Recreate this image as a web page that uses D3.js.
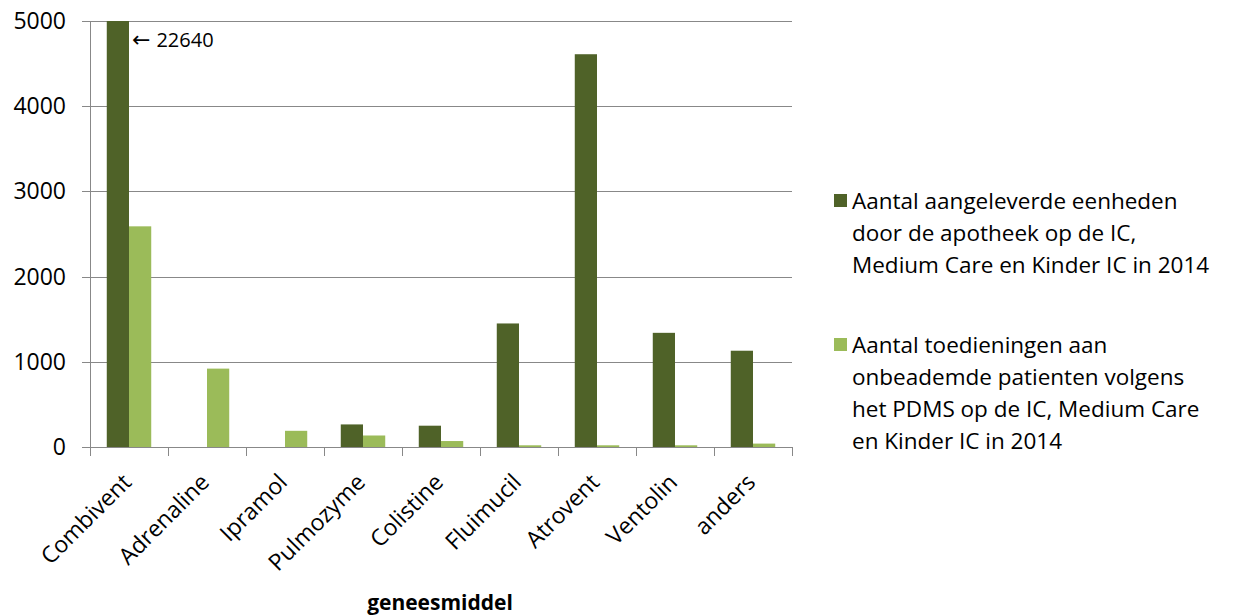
<!DOCTYPE html>
<html>
<head>
<meta charset="utf-8">
<script src="https://cdn.jsdelivr.net/npm/d3@7"></script>
<style>
  body { margin: 0; background: #fff; }
  svg text { font-family: "Open Sans", sans-serif; fill: #000; }
</style>
</head>
<body>
<svg id="chart" width="1238" height="615"></svg>
<script>
// data
const categories = ["Combivent", "Adrenaline", "Ipramol", "Pulmozyme", "Colistine", "Fluimucil", "Atrovent", "Ventolin", "anders"];
const delivered = [22640, 0, 0, 265, 250, 1450, 4610, 1340, 1130];
const administered = [2590, 920, 190, 135, 70, 20, 20, 20, 40];
const yTicks = [0, 1000, 2000, 3000, 4000, 5000];
const seriesNames = [
    ["Aantal aangeleverde eenheden", "door de apotheek op de IC,", "Medium Care en Kinder IC in 2014"],
    ["Aantal toedieningen aan", "onbeademde patienten volgens", "het PDMS op de IC, Medium Care", "en Kinder IC in 2014"]
];
const colors = ["#4F6228", "#9BBB59"];

const svg = d3.select("#chart");
const margin = {top: 21, left: 90, right: 792, bottom: 447};

const x = d3.scaleBand()
    .domain(categories)
    .range([margin.left, margin.right])
    .paddingInner(0.43)
    .paddingOuter(0.215);
// outer tick positions are the category boundaries
const step = (margin.right - margin.left) / categories.length;

const y = d3.scaleLinear()
    .domain([0, 5000])
    .range([margin.bottom, margin.top])
    .clamp(true);

// gridlines
svg.append("g")
    .selectAll("line")
    .data(yTicks)
    .enter().append("line")
    .attr("x1", margin.left - 8)
    .attr("x2", margin.right)
    .attr("y1", d => Math.round(y(d)) + 0.5)
    .attr("y2", d => Math.round(y(d)) + 0.5)
    .attr("stroke", "#888")
    .attr("stroke-width", 1);

// y labels
svg.append("g")
    .selectAll("text")
    .data(yTicks)
    .enter().append("text")
    .attr("x", 66)
    .attr("y", d => y(d))
    .attr("dy", "0.35em")
    .attr("text-anchor", "end")
    .style("font-size", "23px")
    .text(d => d);

// y axis line
svg.append("line")
    .attr("x1", margin.left + 0.5).attr("x2", margin.left + 0.5)
    .attr("y1", margin.top).attr("y2", margin.bottom)
    .attr("stroke", "#888");

// bars
const bw = x.bandwidth() / 2;
const series = [delivered, administered];
series.forEach((vals, si) => {
    svg.append("g")
        .selectAll("rect")
        .data(vals)
        .enter().append("rect")
        .attr("x", (d, i) => x(categories[i]) + si * bw)
        .attr("y", d => y(d))
        .attr("width", bw)
        .attr("height", d => y(0) - y(d))
        .attr("fill", colors[si]);
});

// x axis line and ticks
svg.append("line")
    .attr("x1", margin.left).attr("x2", margin.right)
    .attr("y1", margin.bottom + 0.5).attr("y2", margin.bottom + 0.5)
    .attr("stroke", "#888");
svg.append("g")
    .selectAll("line")
    .data(d3.range(categories.length + 1))
    .enter().append("line")
    .attr("x1", i => Math.round(margin.left + i * step) + 0.5)
    .attr("x2", i => Math.round(margin.left + i * step) + 0.5)
    .attr("y1", margin.bottom)
    .attr("y2", margin.bottom + 9)
    .attr("stroke", "#888");

// category labels, rotated
svg.append("g")
    .selectAll("text")
    .data(categories)
    .enter().append("text")
    .attr("transform", d => `translate(${x(d) + x.bandwidth() / 2 - 2},${margin.bottom + 31}) rotate(-45)`)
    .attr("text-anchor", "end")
    .attr("dy", "0.35em")
    .style("font-size", "23px")
    .text(d => d);

// axis title
svg.append("text")
    .attr("x", 440)
    .attr("y", 610)
    .attr("text-anchor", "middle")
    .style("font-size", "21px")
    .style("font-weight", "bold")
    .text("geneesmiddel");

// annotation for the clipped bar
const note = svg.append("text")
    .attr("x", x(categories[0]) + bw + 3)
    .attr("y", 47)
    .style("font-size", "20px");
note.append("tspan")
    .style("font-family", "'DejaVu Sans'")
    .style("font-size", "22px")
    .text("\u2190");
note.append("tspan")
    .attr("dx", 6)
    .text(delivered[0]);

// legend
const legendTop = [201, 345];
seriesNames.forEach((lines, si) => {
    svg.append("rect")
        .attr("x", 834)
        .attr("y", legendTop[si] - 7)
        .attr("width", 13)
        .attr("height", 13)
        .attr("fill", colors[si]);
    svg.append("g")
        .selectAll("text")
        .data(lines)
        .enter().append("text")
        .attr("x", 852)
        .attr("y", (d, i) => legendTop[si] + i * 32)
        .attr("dy", "0.35em")
        .style("font-size", "22.5px")
        .text(d => d);
});
</script>
</body>
</html>
